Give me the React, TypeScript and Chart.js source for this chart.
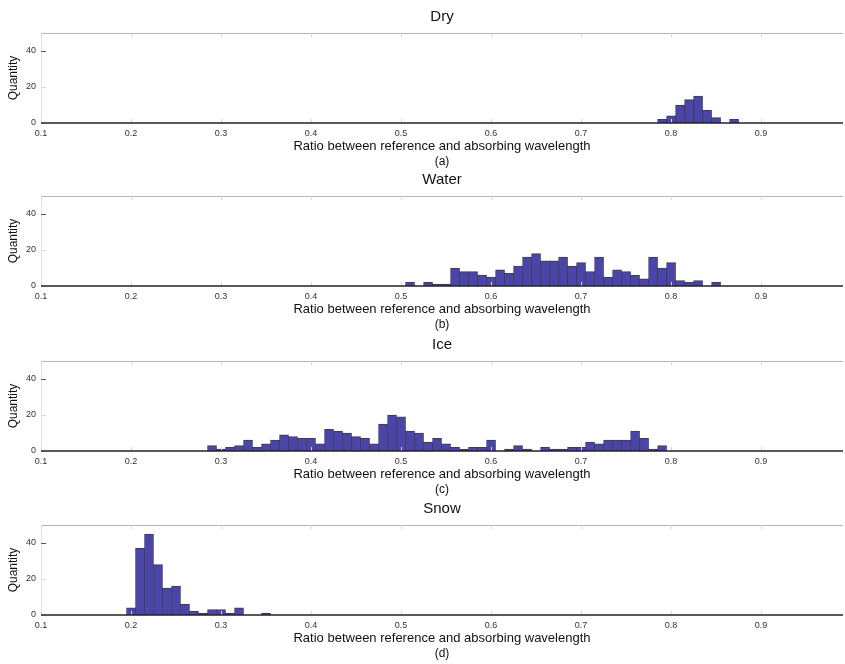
import React, { useEffect, useRef } from "react";
import { Chart, registerables } from "chart.js";

Chart.register(...registerables);

// ---- data ----
const xTickValues = [0.1, 0.2, 0.3, 0.4, 0.5, 0.6, 0.7, 0.8, 0.9];
const yTickValues = [0, 20, 40];
const panelTitles = ["Dry", "Water", "Ice", "Snow"];
const panelLetters = ["(a)", "(b)", "(c)", "(d)"];
const xAxisTitle = "Ratio between reference and absorbing wavelength";
const yAxisTitle = "Quantity";
const binWidth = 0.01;

// counts per bin (bin centres start at the given value, step 0.01)
const dryStart = 0.79;
const dryCounts = [2, 4, 10, 13, 15, 7, 3, 0, 2];

const waterStart = 0.51;
const waterCounts = [
  2, 0, 2, 1, 1, 10, 8, 8, 6, 5, 9, 7, 11, 16, 18, 14, 14, 16, 11, 13, 8, 16,
  5, 9, 8, 6, 4, 16, 10, 13, 3, 2, 3, 0, 2,
];

const iceStart = 0.29;
const iceCounts = [
  3, 1, 2, 3, 6, 2, 4, 6, 9, 8, 7, 7, 4, 12, 11, 10, 8, 7, 4, 15, 20, 19, 11,
  10, 5, 7, 4, 2, 1, 2, 2, 6, 0, 1, 3, 1, 0, 2, 1, 1, 2, 2, 5, 4, 6, 6, 6, 11,
  7, 1, 3,
];

const snowStart = 0.2;
const snowCounts = [4, 37, 45, 28, 15, 16, 6, 2, 1, 3, 3, 1, 4, 0, 0, 1];

const panelStarts = [dryStart, waterStart, iceStart, snowStart];
const panelCounts = [dryCounts, waterCounts, iceCounts, snowCounts];
const panelTops = [0, 163, 328, 492];

const W = 845;
const H = 172;
const FONT = "'Liberation Sans', Arial, Helvetica, sans-serif";

const decorPlugin = {
  id: "decor",
  afterDraw(chart: any, _args: any, opts: any) {
    const { ctx, chartArea } = chart;
    const { left, right, top, bottom } = chartArea;
    const xs = chart.scales.x;
    const ys = chart.scales.y;
    ctx.save();
    // top box line
    ctx.strokeStyle = "#b4b4b4";
    ctx.lineWidth = 1;
    ctx.beginPath();
    ctx.moveTo(left, top + 0.5);
    ctx.lineTo(right, top + 0.5);
    ctx.stroke();
    // faint left line
    ctx.strokeStyle = "#e4e4e4";
    ctx.beginPath();
    ctx.moveTo(left + 0.5, top);
    ctx.lineTo(left + 0.5, bottom);
    ctx.stroke();
    // faint tick marks
    ctx.strokeStyle = "#d8d8d8";
    xTickValues.forEach((v) => {
      const px = Math.round(xs.getPixelForValue(v)) + 0.5;
      ctx.beginPath();
      ctx.moveTo(px, bottom);
      ctx.lineTo(px, bottom - 4);
      ctx.moveTo(px, top);
      ctx.lineTo(px, top + 4);
      ctx.stroke();
    });
    yTickValues.forEach((v) => {
      const py = Math.round(ys.getPixelForValue(v)) + 0.5;
      ctx.strokeStyle = v === 40 ? "#555" : "#d8d8d8";
      ctx.beginPath();
      ctx.moveTo(left, py);
      ctx.lineTo(left + 5, py);
      ctx.stroke();
    });
    // bottom axis line
    ctx.strokeStyle = "#222";
    ctx.lineWidth = 1.5;
    ctx.beginPath();
    ctx.moveTo(left, bottom);
    ctx.lineTo(right, bottom);
    ctx.stroke();
    // texts
    const cx = (left + right) / 2;
    ctx.fillStyle = "#111";
    ctx.textAlign = "center";
    ctx.textBaseline = "middle";
    ctx.font = `15px ${FONT}`;
    ctx.fillText(opts.title, cx, 17);
    ctx.font = `13px ${FONT}`;
    ctx.fillText(xAxisTitle, cx, 146.5);
    ctx.font = `12px ${FONT}`;
    ctx.fillText(opts.letter, cx, 162);
    ctx.save();
    ctx.translate(14, (top + bottom) / 2);
    ctx.rotate(-Math.PI / 2);
    ctx.font = `12px ${FONT}`;
    ctx.fillText(yAxisTitle, 0, 0);
    ctx.restore();
    ctx.restore();
  },
};

function Panel({ index }: { index: number }) {
  const ref = useRef<HTMLCanvasElement>(null);
  useEffect(() => {
    if (!ref.current) return;
    const start = panelStarts[index];
    const counts = panelCounts[index];
    const points = counts
      .map((c, i) => ({ x: Math.round((start + i * binWidth) * 100) / 100, y: c }))
      .filter((p) => p.y > 0);
    const chart = new Chart(ref.current, {
      type: "bar",
      data: {
        datasets: [
          {
            data: points as any,
            backgroundColor: "#4b45a9",
            borderColor: "rgba(25,22,70,0.85)",
            borderWidth: 1,
            borderSkipped: "start",
            barPercentage: 1,
            categoryPercentage: 1,
          },
        ],
      },
      options: {
        animation: false,
        responsive: false,
        maintainAspectRatio: false,
        layout: { padding: { top: 33, right: 2, left: 0, bottom: 0 } },
        plugins: {
          legend: { display: false },
          tooltip: { enabled: false },
          title: { display: false },
          decor: { title: panelTitles[index], letter: panelLetters[index] },
        } as any,
        scales: {
          x: {
            type: "linear",
            min: 0.1,
            max: 0.991,
            offset: false,
            afterBuildTicks: (s: any) => {
              s.ticks = xTickValues.map((v) => ({ value: v }));
            },
            afterFit: (s: any) => {
              s.height = 49;
            },
            grid: { display: false, drawTicks: false },
            border: { display: false },
            ticks: {
              padding: 5,
              autoSkip: false,
              maxRotation: 0,
              color: "#333",
              font: { size: 9, family: FONT },
              callback: (v: any) => Number(v).toFixed(1),
            },
          },
          y: {
            min: 0,
            max: 50,
            afterBuildTicks: (s: any) => {
              s.ticks = yTickValues.map((v) => ({ value: v }));
            },
            afterFit: (s: any) => {
              s.width = 41;
            },
            grid: { display: false, drawTicks: false },
            border: { display: false },
            ticks: {
              padding: 5,
              color: "#333",
              font: { size: 9, family: FONT },
            },
          },
        },
      },
      plugins: [decorPlugin],
    });
    return () => chart.destroy();
  }, [index]);
  return (
    <canvas
      ref={ref}
      width={W}
      height={H}
      style={{ position: "absolute", left: 0, top: panelTops[index], width: W, height: H }}
    />
  );
}

export default function App() {
  return (
    <div
      style={{
        position: "fixed",
        left: 0,
        top: 0,
        width: W,
        height: 664,
        background: "#fff",
        overflow: "hidden",
      }}
    >
      {panelTitles.map((_, i) => (
        <Panel key={i} index={i} />
      ))}
    </div>
  );
}
